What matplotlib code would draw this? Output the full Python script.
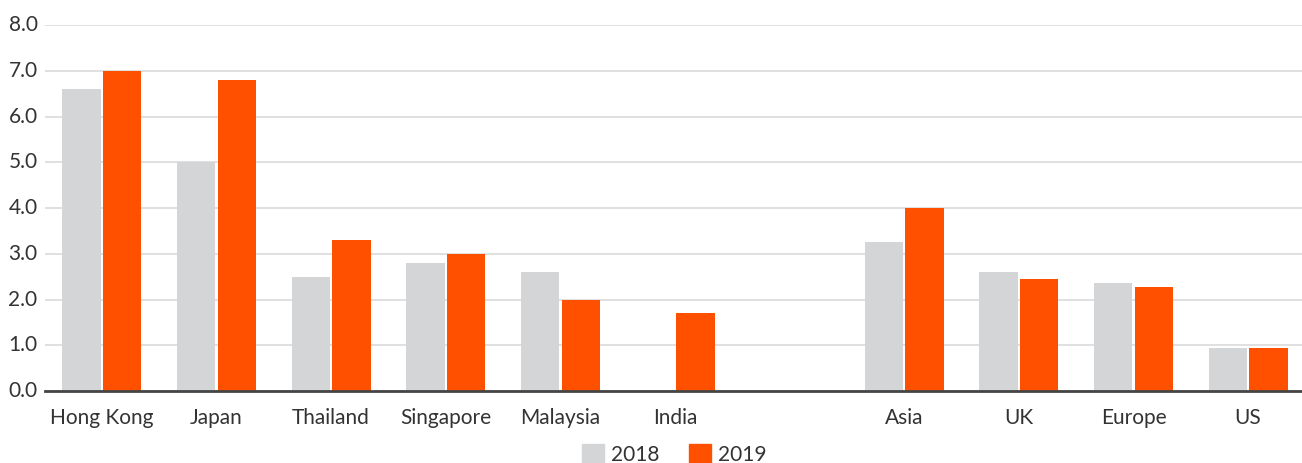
import matplotlib
matplotlib.use("Agg")
import matplotlib.pyplot as plt
import numpy as np
from matplotlib.patches import Patch

categories = ["Hong Kong", "Japan", "Thailand", "Singapore", "Malaysia", "India", "",
              "Asia", "UK", "Europe", "US"]
values_2018 = [6.6, 5.0, 2.5, 2.8, 2.6, np.nan, np.nan, 3.25, 2.6, 2.35, 0.95]
values_2019 = [7.0, 6.8, 3.3, 3.0, 2.0, 1.7, np.nan, 4.0, 2.45, 2.27, 0.93]
series_labels = ["2018", "2019"]
yticks = [0, 1, 2, 3, 4, 5, 6, 7, 8]

GRAY = "#d4d5d7"
ORANGE = "#ff5000"
TEXT = "#333333"

plt.rcParams["font.family"] = ["Lato", "DejaVu Sans"]

fig = plt.figure(figsize=(13.02, 4.63), dpi=100)
ax = fig.add_axes([0.0342, 0.1555, 0.9658, 0.7905])

x = np.arange(len(categories))
w = 0.335
gap = 0.01
ax.bar(x - gap - w / 2, values_2018, width=w, color=GRAY, zorder=2)
ax.bar(x + gap + w / 2, values_2019, width=w, color=ORANGE, zorder=2)

ax.set_xlim(-0.5, len(categories) - 0.53)
ax.set_ylim(0, 8)
ax.set_yticks(yticks)
ax.set_yticklabels([f"{t:.1f}" for t in yticks], fontsize=15, color=TEXT)
ax.set_xticks(x)
ax.set_xticklabels(categories, fontsize=15, color=TEXT)
ax.tick_params(axis="both", length=0)
ax.tick_params(axis="y", pad=5)
ax.tick_params(axis="x", pad=12)
for lab in ax.get_yticklabels():
    lab.set_verticalalignment("center")

ax.grid(axis="y", color="#dddddd", linewidth=1.3, zorder=0)
for s in ["top", "right", "left"]:
    ax.spines[s].set_visible(False)
ax.spines["bottom"].set_color("#444444")
ax.spines["bottom"].set_linewidth(2)
ax.spines["bottom"].set_zorder(3)

handles = [Patch(color=GRAY), Patch(color=ORANGE)]
fig.legend(handles, series_labels, loc="lower center", bbox_to_anchor=(0.518, -0.045),
           ncol=2, frameon=False, handlelength=1.05, handleheight=1.05,
           handletextpad=0.35, columnspacing=1.4, labelcolor=TEXT,
           prop={"size": 15})

fig.savefig("out.png", dpi=100)
